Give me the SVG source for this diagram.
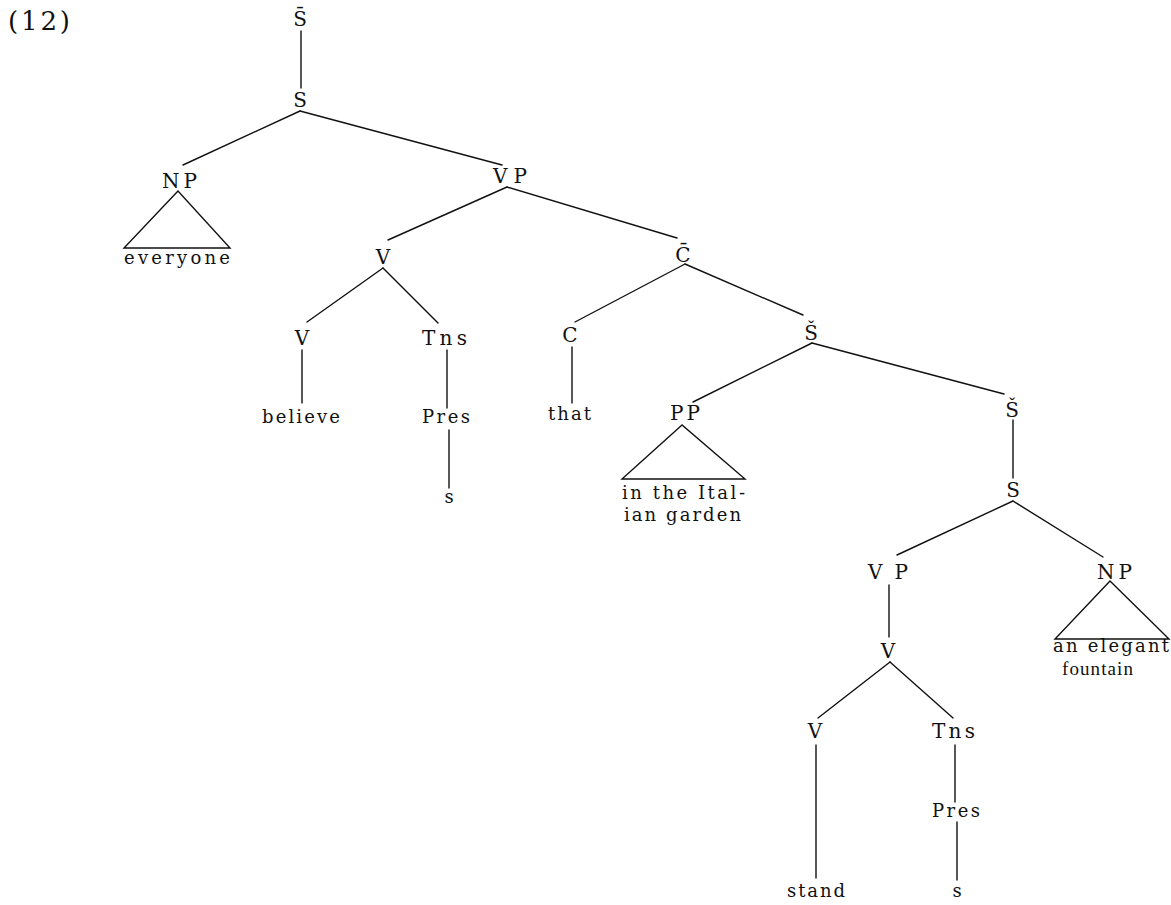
<svg xmlns="http://www.w3.org/2000/svg" width="1171" height="905" viewBox="0 0 1171 905">
<style>
text{font-family:"DejaVu Serif","Liberation Serif",serif;fill:#111}
.lab{font-size:20px}
.w{font-size:18px}
.m{text-anchor:middle}
.e{stroke:#111;stroke-width:1.4;fill:none;stroke-linecap:round}
.tri{stroke:#111;stroke-width:1.4;fill:none;stroke-linejoin:miter}
</style>
<rect width="1171" height="905" fill="#fff"/>
<text id="num" x="8" y="30" style="font-size:26px" textLength="62" lengthAdjust="spacing">(12)</text>
<g id="connectors">
<line class="e" x1="301" y1="31" x2="301" y2="88"/>
<line class="e" x1="300" y1="111" x2="183" y2="165"/>
<line class="e" x1="300" y1="111" x2="502" y2="165"/>
<line class="e" x1="507" y1="187" x2="388" y2="240"/>
<line class="e" x1="507" y1="187" x2="677" y2="238"/>
<line class="e" x1="383" y1="268" x2="307" y2="322"/>
<line class="e" x1="383" y1="268" x2="438" y2="323"/>
<line class="e" x1="302" y1="350" x2="302" y2="403"/>
<line class="e" x1="447" y1="350" x2="447" y2="408"/>
<line class="e" x1="449" y1="430" x2="449" y2="488"/>
<line class="e" x1="685" y1="264" x2="575" y2="322"/>
<line class="e" x1="685" y1="264" x2="803" y2="315"/>
<line class="e" x1="572" y1="347" x2="572" y2="403"/>
<line class="e" x1="812" y1="343" x2="693" y2="402"/>
<line class="e" x1="812" y1="343" x2="1004" y2="394"/>
<line class="e" x1="1013" y1="420" x2="1013" y2="478"/>
<line class="e" x1="1013" y1="501" x2="897" y2="555"/>
<line class="e" x1="1013" y1="501" x2="1103" y2="557"/>
<line class="e" x1="889" y1="585" x2="889" y2="637"/>
<line class="e" x1="890" y1="662" x2="818" y2="718"/>
<line class="e" x1="890" y1="662" x2="953" y2="718"/>
<line class="e" x1="816" y1="745" x2="816" y2="878"/>
<line class="e" x1="955" y1="745" x2="955" y2="802"/>
<line class="e" x1="957" y1="822" x2="957" y2="880"/>
</g>
<g id="n-sbar-top"><text class="lab m" x="300" y="26">S̄</text></g>
<g id="n-s-top"><text class="lab m" x="300" y="107">S</text></g>
<g id="n-np1"><text class="lab" x="162" y="188" textLength="35" lengthAdjust="spacing">NP</text><polygon class="tri" points="178,191 124,248 230,248"/></g>
<g id="n-everyone"><text class="w" x="124" y="264" textLength="106" lengthAdjust="spacing">everyone</text></g>
<g id="n-vp1"><text class="lab" x="493" y="183" textLength="34" lengthAdjust="spacing">VP</text></g>
<g id="n-v1"><text class="lab m" x="383" y="264">V</text></g>
<g id="n-cbar"><text class="lab m" x="683" y="262">C̄</text></g>
<g id="n-v2"><text class="lab m" x="302" y="345">V</text></g>
<g id="n-tns1"><text class="lab" x="422" y="345" textLength="45" lengthAdjust="spacing">Tns</text></g>
<g id="n-believe"><text class="w" x="262" y="423" textLength="78" lengthAdjust="spacing">believe</text></g>
<g id="n-pres1"><text class="w" x="422" y="423" textLength="48" lengthAdjust="spacing">Pres</text></g>
<g id="n-s1"><text class="w m" x="449" y="503">s</text></g>
<g id="n-c"><text class="lab m" x="570" y="342">C</text></g>
<g id="n-that"><text class="w" x="548" y="420" textLength="43" lengthAdjust="spacing">that</text></g>
<g id="n-sbar2"><text class="lab m" x="811" y="340">Š</text></g>
<g id="n-pp"><text class="lab" x="670" y="420" textLength="30" lengthAdjust="spacing">PP</text><polygon class="tri" points="682,425 622,479 745,479"/></g>
<g id="n-pp-text"><text class="w" x="622" y="499" textLength="123" lengthAdjust="spacing">in the Ital-</text><text class="w" x="624" y="521" textLength="117" lengthAdjust="spacing">ian garden</text></g>
<g id="n-sbar3"><text class="lab m" x="1012" y="417">Š</text></g>
<g id="n-s2"><text class="lab m" x="1013" y="497">S</text></g>
<g id="n-vp2"><text class="lab" x="868" y="579" textLength="40" lengthAdjust="spacing">VP</text></g>
<g id="n-np2"><text class="lab" x="1097" y="579" textLength="35" lengthAdjust="spacing">NP</text><polygon class="tri" points="1110,581 1055,639 1169,639"/></g>
<g id="n-np2-text"><text class="w" x="1053" y="652" textLength="116" lengthAdjust="spacing">an elegant</text><text x="1062" y="675" style="font-family:'Liberation Serif',serif;font-size:19px" textLength="71" lengthAdjust="spacing">fountain</text></g>
<g id="n-v3"><text class="lab m" x="888" y="658">V</text></g>
<g id="n-v4"><text class="lab m" x="815" y="738">V</text></g>
<g id="n-tns2"><text class="lab" x="932" y="738" textLength="43" lengthAdjust="spacing">Tns</text></g>
<g id="n-pres2"><text class="w" x="932" y="817" textLength="48" lengthAdjust="spacing">Pres</text></g>
<g id="n-stand"><text class="w" x="787" y="897" textLength="58" lengthAdjust="spacing">stand</text></g>
<g id="n-s3"><text class="w m" x="957" y="897">s</text></g>
</svg>
